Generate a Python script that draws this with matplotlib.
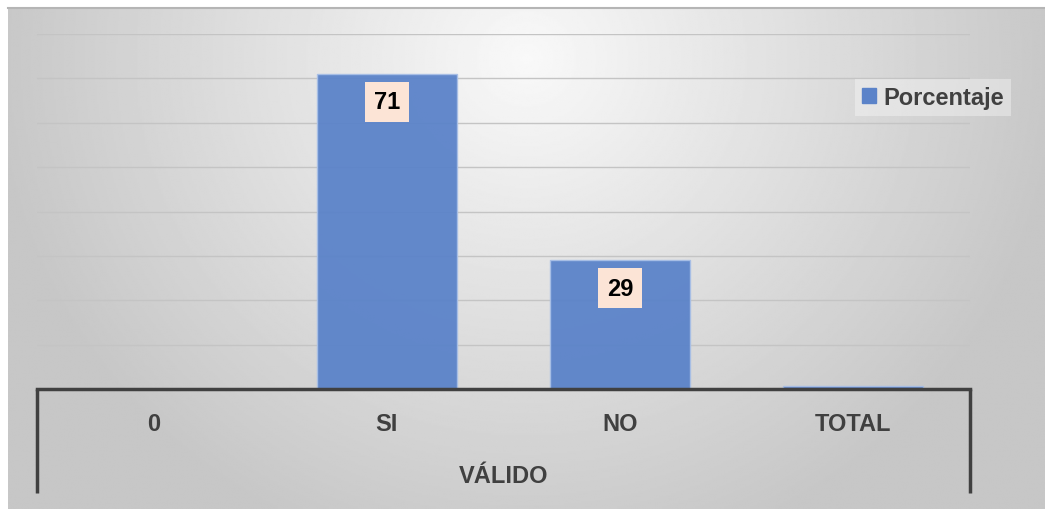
import numpy as np
import matplotlib.pyplot as plt
from matplotlib.patches import Rectangle
from matplotlib.transforms import blended_transform_factory

# Data
categories = ["0", "SI", "NO", "TOTAL"]
values = [0, 71, 29, 0.6]
value_labels = ["", "71", "29", ""]
group_label = "VÁLIDO"
series_name = "Porcentaje"

FONT = ["Liberation Sans", "DejaVu Sans"]
FS = 17
BAR_COLOR = "#5b83c9"
W, H = 1045, 510

fig = plt.figure(figsize=(W / 100, H / 100), dpi=100)
fig.patch.set_facecolor("white")

# Radial gray gradient background of the chart area
bg = fig.add_axes([8 / W, 0, 1 - 8 / W, 1 - 9 / H])
bg.set_axis_off()
yy, xx = np.mgrid[0:1:300j, 0:1:600j]
d = np.sqrt(((xx - 0.5) / 0.5) ** 2 + ((yy - 0.1) / 1.0) ** 2)
shade = np.clip(0.975 - 0.19 * d, 0.78, 1.0)
bg.imshow(shade, cmap="gray", vmin=0, vmax=1, aspect="auto",
          extent=[0, 1, 1, 0], interpolation="bilinear")
fig.add_artist(plt.Line2D([8 / W, 1], [1 - 9 / H, 1 - 9 / H],
                          color="#b5b5b5", lw=1.5))

# Plot area
ax = fig.add_axes([37 / W, 1 - 390 / H, 933 / W, 355 / H])
ax.patch.set_alpha(0)
x = np.arange(len(categories))
bars = ax.bar(x, values, width=0.6, color=BAR_COLOR, alpha=0.95,
              edgecolor="#a8bfe6", linewidth=1, zorder=3)

ax.set_xlim(-0.5, len(categories) - 0.5)
ax.set_ylim(0, 80)
ax.set_yticks(np.arange(0, 81, 10))
ax.yaxis.grid(True, color="#c4c4c4", lw=1)
ax.tick_params(left=False, bottom=False, labelleft=False, labelbottom=False)
for s in ["left", "right", "top"]:
    ax.spines[s].set_visible(False)
ax.spines["bottom"].set_color("#404040")
ax.spines["bottom"].set_linewidth(2.5)
ax.spines["bottom"].set_zorder(4)

# value labels
for b, lab in zip(bars, value_labels):
    if lab:
        ax.annotate(lab, (b.get_x() + b.get_width() / 2, b.get_height()),
                    xytext=(0, -28), textcoords="offset pixels",
                    ha="center", va="center", fontsize=FS, fontweight="bold",
                    family=FONT, color="black", zorder=5,
                    bbox=dict(boxstyle="square,pad=0.36", fc="#fce4d6", ec="none"))

# category labels and group label
tr = blended_transform_factory(ax.transData, ax.transAxes)
for xi, c in zip(x, categories):
    ax.text(xi, -35 / 355, c, transform=tr, ha="center", va="center",
            fontsize=FS, fontweight="bold", family=FONT, color="#404040")
ax.text(x.mean(), -87 / 355, group_label, transform=tr, ha="center",
        va="center", fontsize=FS, fontweight="bold", family=FONT, color="#404040")
for xe in [0, 1]:
    ax.plot([xe, xe], [0, -104 / 355], transform=ax.transAxes, color="#404040",
            lw=2.5, clip_on=False, solid_capstyle="butt")

# legend
handle = Rectangle((0, 0), 1, 1, color=BAR_COLOR)
leg = fig.legend([handle], [series_name], loc="upper left",
                 bbox_to_anchor=(843 / W, 1 - 68 / H),
                 prop=dict(family=FONT, size=FS, weight="bold"),
                 handlelength=0.6, handleheight=0.6, handletextpad=0.3,
                 borderpad=0.3, frameon=True, fancybox=False)
leg.get_frame().set_facecolor("white")
leg.get_frame().set_alpha(0.35)
leg.get_frame().set_edgecolor("none")
for t in leg.get_texts():
    t.set_color("#404040")

fig.savefig("out.png", dpi=100)
